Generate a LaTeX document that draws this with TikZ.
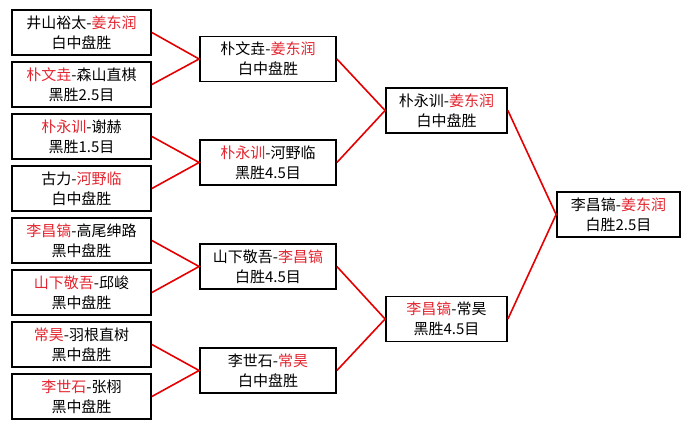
\documentclass[tikz,border=0pt]{standalone}
\usepackage{fontspec}
\setmainfont{Noto Sans CJK SC}
\definecolor{rt}{RGB}{228,38,48}
\definecolor{ln}{RGB}{228,0,0}
\newcommand{\R}[1]{\textcolor{rt}{#1}}
\begin{document}
\begin{tikzpicture}[x=1pt,y=-1pt,
  gbox/.style={draw=black,line width=1.8pt,inner sep=0pt,minimum height=45pt,align=center,
    font=\fontsize{15}{20}\selectfont},
  r1/.style={gbox,minimum width=139pt},
  r2/.style={gbox,minimum width=136pt},
  r3/.style={gbox,minimum width=121pt},
  r4/.style={gbox,minimum width=123pt},
  conn/.style={draw=ln,line width=1.6pt}]
\useasboundingbox (0,0) rectangle (689,429);
\fill[white] (0,0) rectangle (689,429);
% round 1
\node[r1] (a1) at (81.5,32.5)  {井山裕太-\R{姜东润}\\白中盘胜};
\node[r1] (a2) at (81.5,84.5)  {\R{朴文垚}-森山直棋\\黑胜2.5目};
\node[r1] (a3) at (81.5,136.5) {\R{朴永训}-谢赫\\黑胜1.5目};
\node[r1] (a4) at (81.5,188.5) {古力-\R{河野临}\\白中盘胜};
\node[r1] (a5) at (81.5,240.5) {\R{李昌镐}-高尾绅路\\黑中盘胜};
\node[r1] (a6) at (81.5,292.5) {\R{山下敬吾}-邱峻\\黑中盘胜};
\node[r1] (a7) at (81.5,344.5) {\R{常昊}-羽根直树\\黑中盘胜};
\node[r1] (a8) at (81.5,396.5) {\R{李世石}-张栩\\黑中盘胜};
% round 2
\node[r2] (b1) at (268,59)    {朴文垚-\R{姜东润}\\白中盘胜};
\node[r2] (b2) at (268,162.5) {\R{朴永训}-河野临\\黑胜4.5目};
\node[r2] (b3) at (268,266.5) {山下敬吾-\R{李昌镐}\\白胜4.5目};
\node[r2] (b4) at (268,370.5) {李世石-\R{常昊}\\白中盘胜};
% round 3
\node[r3] (c1) at (446.5,110.5) {朴永训-\R{姜东润}\\白中盘胜};
\node[r3] (c2) at (446.5,319)   {\R{李昌镐}-常昊\\黑胜4.5目};
% final
\node[r4] (d1) at (618.5,214.5) {李昌镐-\R{姜东润}\\白胜2.5目};
% connectors
\draw[conn] (a1.east) -- (b1.west) -- (a2.east);
\draw[conn] (a3.east) -- (b2.west) -- (a4.east);
\draw[conn] (a5.east) -- (b3.west) -- (a6.east);
\draw[conn] (a7.east) -- (b4.west) -- (a8.east);
\draw[conn] (b1.east) -- (c1.west) -- (b2.east);
\draw[conn] (b3.east) -- (c2.west) -- (b4.east);
\draw[conn] (c1.east) -- (d1.west) -- (c2.east);
\end{tikzpicture}
\end{document}
